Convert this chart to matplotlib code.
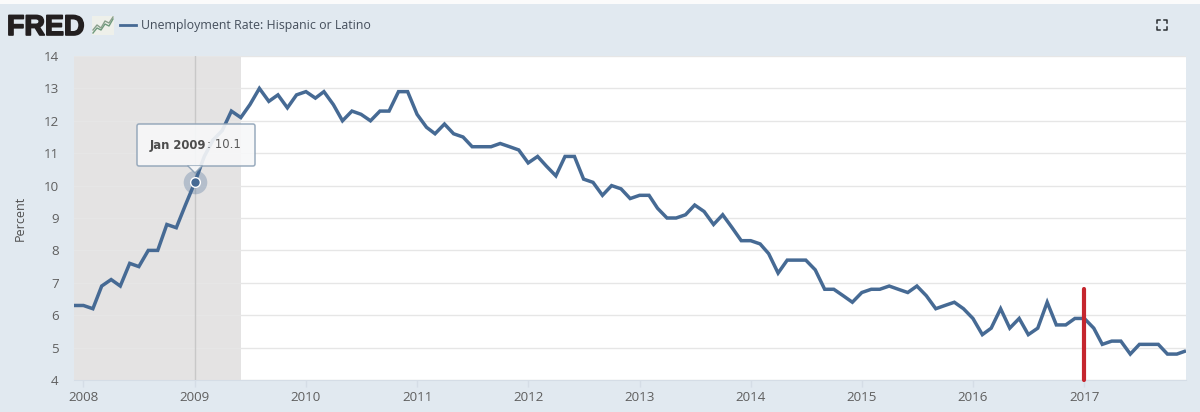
import numpy as np
import pandas as pd
import matplotlib
matplotlib.use("Agg")
import matplotlib.pyplot as plt
import matplotlib.dates as mdates
import matplotlib.patheffects as pe
from matplotlib.patches import Rectangle, FancyBboxPatch, Polygon

plt.rcParams['font.family'] = ['Open Sans', 'DejaVu Sans']

# monthly values, Dec 2007 - Dec 2017
rate_2007 = [6.3]
rate_2008 = [6.3, 6.2, 6.9, 7.1, 6.9, 7.6, 7.5, 8.0, 8.0, 8.8, 8.7, 9.4]
rate_2009 = [10.1, 10.9, 11.4, 11.7, 12.3, 12.1, 12.5, 13.0, 12.6, 12.8, 12.4, 12.8]
rate_2010 = [12.9, 12.7, 12.9, 12.5, 12.0, 12.3, 12.2, 12.0, 12.3, 12.3, 12.9, 12.9]
rate_2011 = [12.2, 11.8, 11.6, 11.9, 11.6, 11.5, 11.2, 11.2, 11.2, 11.3, 11.2, 11.1]
rate_2012 = [10.7, 10.9, 10.6, 10.3, 10.9, 10.9, 10.2, 10.1, 9.7, 10.0, 9.9, 9.6]
rate_2013 = [9.7, 9.7, 9.3, 9.0, 9.0, 9.1, 9.4, 9.2, 8.8, 9.1, 8.7, 8.3]
rate_2014 = [8.3, 8.2, 7.9, 7.3, 7.7, 7.7, 7.7, 7.4, 6.8, 6.8, 6.6, 6.4]
rate_2015 = [6.7, 6.8, 6.8, 6.9, 6.8, 6.7, 6.9, 6.6, 6.2, 6.3, 6.4, 6.2]
rate_2016 = [5.9, 5.4, 5.6, 6.2, 5.6, 5.9, 5.4, 5.6, 6.4, 5.7, 5.7, 5.9]
rate_2017 = [5.9, 5.6, 5.1, 5.2, 5.2, 4.8, 5.1, 5.1, 5.1, 4.8, 4.8, 4.9]

rates = (rate_2007 + rate_2008 + rate_2009 + rate_2010 + rate_2011 + rate_2012
         + rate_2013 + rate_2014 + rate_2015 + rate_2016 + rate_2017)
months = pd.date_range("2007-12-01", periods=len(rates), freq="MS")

years = list(range(2008, 2018))
y_ticks = list(range(4, 15))
recession = (pd.Timestamp("2007-12-01"), pd.Timestamp("2009-06-01"))
hover_date = pd.Timestamp("2009-01-01")
hover_value = 10.1
mark_date = pd.Timestamp("2017-01-01")
mark_top = 6.8

W, H = 1200, 412
BG = "#e1e9f0"
LINE = "#466a94"
TXT = "#5f5f5f"

fig = plt.figure(figsize=(W / 100, H / 100), dpi=100, facecolor=BG)

# page chrome, in pixels from the top left
bg = fig.add_axes([0, 0, 1, 1])
bg.set_xlim(0, W)
bg.set_ylim(H, 0)
bg.axis("off")
bg.add_patch(Rectangle((0, 0), W, 4, fc="#fbfbfb", ec="none"))

logo = bg.text(7, 35, "FRED", fontsize=20.5, fontweight="bold", family="Liberation Sans",
               color="#231f20", va="baseline", ha="left")
logo.set_path_effects([pe.withStroke(linewidth=1.2, foreground="#231f20")])
bg.add_patch(Rectangle((92, 16), 22, 19, fc="#eef0ea", ec="none"))
bg.plot([93, 97, 101, 105, 109, 113], [33, 28, 30, 24, 26, 19], color="#6f9a7c", lw=1)
bg.plot([93, 97, 101, 105, 109, 113], [30, 25, 28, 21, 23, 17], color="#8aa08c", lw=1)
bg.plot([120, 136], [25, 25], color=LINE, lw=2)
bg.text(141, 25, "Unemployment Rate: Hispanic or Latino", fontsize=8.9, color="#454f5c", va="center")

# fullscreen icon
for cx, cy, dx, dy in [(1157, 20, 1, 1), (1167, 20, -1, 1), (1157, 30, 1, -1), (1167, 30, -1, -1)]:
    bg.plot([cx + 3 * dx, cx, cx], [cy, cy, cy + 3 * dy], color="#2b2f33", lw=1.1)

# chart
ax = fig.add_axes([74 / W, 1 - 380 / H, (1186 - 74) / W, (380 - 56) / H], facecolor="white")
ax.set_xlim(months[0], months[-1])
ax.set_ylim(4, 14)
ax.axvspan(recession[0], recession[1], color="#e4e3e3", lw=0, zorder=1)
ax.set_yticks(y_ticks)
ax.grid(axis="y", color="#e6e6e6", lw=1, zorder=2)
ax.set_xticks([pd.Timestamp(f"{y}-01-01") for y in years])
ax.xaxis.set_major_formatter(mdates.DateFormatter("%Y"))
ax.tick_params(axis="x", length=5, width=1, color="#d5dde6", labelsize=9.6, labelcolor=TXT, pad=3)
ax.tick_params(axis="y", length=0, labelsize=9.6, labelcolor=TXT, pad=11)
for s in ax.spines.values():
    s.set_visible(False)
ax.spines["bottom"].set_visible(True)
ax.spines["bottom"].set_color("#d5dde6")
ax.set_ylabel("Percent", fontsize=9, color="#4f4f4f", labelpad=12)

ax.axvline(hover_date, color="#c8c8c8", lw=1, zorder=3)
ax.plot(months, rates, color=LINE, lw=2.5, solid_joinstyle="miter", solid_capstyle="butt", zorder=4)
ax.plot([mark_date, mark_date], [4, mark_top], color="#c5262e", lw=3, zorder=6,
        solid_capstyle="round", clip_on=False)
ax.plot([hover_date], [hover_value], "o", ms=17, mfc=LINE, mec="none", alpha=0.3, zorder=5)
ax.plot([hover_date], [hover_value], "o", ms=7, mfc=LINE, mec="white", mew=1, zorder=6)

# hover tooltip
tip = fig.add_axes([0, 0, 1, 1], facecolor="none", zorder=5)
tip.set_xlim(0, W)
tip.set_ylim(H, 0)
tip.axis("off")
tip.add_patch(FancyBboxPatch((137, 124), 118, 42, boxstyle="round,pad=0,rounding_size=2",
                             fc="#f7f8f9", ec="#8fa3b7", lw=1.1, alpha=0.9))
tip.add_patch(Polygon([[188, 166], [195, 173], [202, 166]], closed=True, fc="#f7f8f9", ec="none", alpha=0.9))
tip.plot([188, 195, 202], [166, 173, 166], color="#8fa3b7", lw=1)
tip.text(150, 145, "Jan 2009", fontsize=8.4, fontweight="bold", color="#4d4d4d",
         family="DejaVu Sans", va="center")
tip.text(207, 145, ": 10.1", fontsize=8.4, color="#5a5a5a", family="DejaVu Sans", va="center")

fig.savefig("out.png", dpi=100, facecolor=fig.get_facecolor())
